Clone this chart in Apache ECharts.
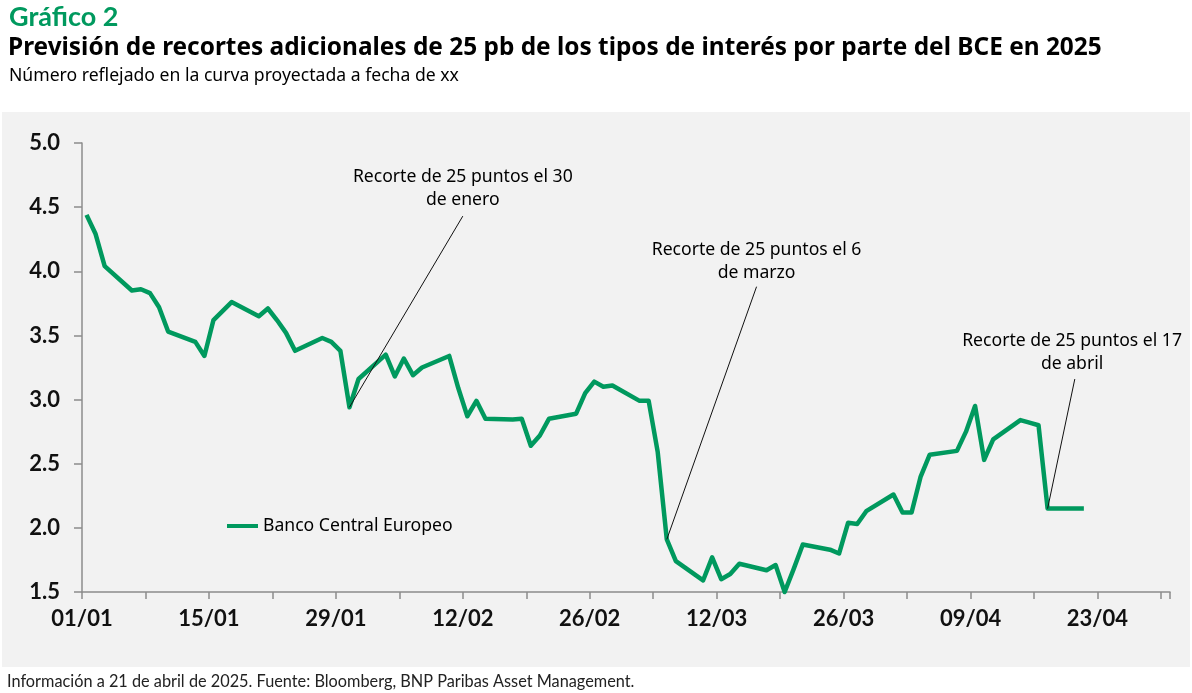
<!DOCTYPE html>
<html>
<head>
<meta charset="utf-8">
<script src="https://cdn.jsdelivr.net/npm/echarts@6/dist/echarts.min.js"></script>
<style>
  html, body { margin: 0; padding: 0; background: #fff; }
  #chart { width: 1192px; height: 693px; }
</style>
</head>
<body>
<div id="chart"></div>
<script>
// business days, 2025
const dates = [
  '2025-01-01','2025-01-02','2025-01-03','2025-01-06','2025-01-07','2025-01-08','2025-01-09','2025-01-10',
  '2025-01-13','2025-01-14','2025-01-15','2025-01-16','2025-01-17','2025-01-20','2025-01-21','2025-01-22',
  '2025-01-23','2025-01-24','2025-01-27','2025-01-28','2025-01-29','2025-01-30','2025-01-31',
  '2025-02-03','2025-02-04','2025-02-05','2025-02-06','2025-02-07','2025-02-10','2025-02-11','2025-02-12',
  '2025-02-13','2025-02-14','2025-02-17','2025-02-18','2025-02-19','2025-02-20','2025-02-21','2025-02-24',
  '2025-02-25','2025-02-26','2025-02-27','2025-02-28',
  '2025-03-03','2025-03-04','2025-03-05','2025-03-06','2025-03-07','2025-03-10','2025-03-11','2025-03-12',
  '2025-03-13','2025-03-14','2025-03-17','2025-03-18','2025-03-19','2025-03-20','2025-03-21','2025-03-24',
  '2025-03-25','2025-03-26','2025-03-27','2025-03-28','2025-03-31',
  '2025-04-01','2025-04-02','2025-04-03','2025-04-04','2025-04-07','2025-04-08','2025-04-09','2025-04-10',
  '2025-04-11','2025-04-14','2025-04-15','2025-04-16','2025-04-17','2025-04-18','2025-04-21'
];
const ecbCuts = [
  4.44, 4.29, 4.04, 3.85, 3.86, 3.83, 3.72, 3.53,
  3.45, 3.34, 3.62, 3.69, 3.76, 3.65, 3.71, 3.62,
  3.52, 3.38, 3.48, 3.45, 3.38, 2.94, 3.16,
  3.35, 3.18, 3.32, 3.19, 3.25, 3.34, 3.09, 2.87,
  2.99, 2.85, 2.845, 2.85, 2.64, 2.72, 2.85, 2.89,
  3.05, 3.14, 3.10, 3.11,
  2.99, 2.99, 2.59, 1.91, 1.74, 1.59, 1.77, 1.60,
  1.64, 1.72, 1.67, 1.71, 1.50, 1.68, 1.87, 1.83,
  1.80, 2.04, 2.03, 2.13, 2.26,
  2.12, 2.12, 2.40, 2.57, 2.60, 2.75, 2.95, 2.53,
  2.69, 2.84, 2.82, 2.80, 2.15, 2.15, 2.15
];
const xTickLabels = ['01/01','15/01','29/01','12/02','26/02','12/03','26/03','09/04','23/04'];

const notes = [
  { date: '2025-01-30', text: 'Recorte de 25 puntos el 30\nde enero' },
  { date: '2025-03-06', text: 'Recorte de 25 puntos el 6\nde marzo' },
  { date: '2025-04-17', text: 'Recorte de 25 puntos el 17\nde abril' }
];
// where each note's text sits / where its leader line stops (axis units)
const noteTextAt = [[42, 4.645], [74.4, 4.08], [109.2, 3.37]];
const noteLineTop = [[42, 4.43], [74.4, 3.88], [109.5, 3.16]];

const GREEN = '#00995e';
const FONT = 'Lato';
const WIDE = 'Noto Sans';
const day0 = Date.UTC(2025, 0, 1);
function dayIndex(d) {
  return (Date.parse(d + 'T00:00:00Z') - day0) / 86400000;
}
// points sit in the middle of their day, like the original
const points = dates.map((d, i) => [dayIndex(d) + 0.5, ecbCuts[i]]);

const noteLines = notes.map((n, i) => {
  const k = dates.indexOf(n.date);
  return [{ coord: [dayIndex(n.date) + 0.5, ecbCuts[k]] }, { coord: noteLineTop[i] }];
});
const noteTexts = notes.map((n, i) => ({ coord: noteTextAt[i], value: n.text }));

const chart = echarts.init(document.getElementById('chart'));
chart.setOption({
  animation: false,
  backgroundColor: '#fff',
  graphic: [{
    type: 'rect', z: -10, silent: true,
    shape: { x: 2, y: 112, width: 1188, height: 555 },
    style: { fill: '#f2f2f2' }
  }],
  title: [
    { text: 'Gráfico 2', left: 4, top: -1,
      textStyle: { fontFamily: FONT, fontSize: 27, fontWeight: 'bold', color: GREEN } },
    { text: 'Previsión de recortes adicionales de 25 pb de los tipos de interés por parte del BCE en 2025', left: 3, top: 31,
      textStyle: { fontFamily: WIDE, fontSize: 24.4, fontWeight: 'bold', color: '#000' } },
    { text: 'Número reflejado en la curva proyectada a fecha de xx', left: 4, top: 62,
      textStyle: { fontFamily: WIDE, fontSize: 17.6, fontWeight: 'normal', color: '#000' } },
    { text: 'Información a 21 de abril de 2025. Fuente: Bloomberg, BNP Paribas Asset Management.', left: 2, top: 669,
      textStyle: { fontFamily: FONT, fontSize: 16.3, fontWeight: 'normal', color: '#222' } }
  ],
  legend: {
    left: 222, top: 512, itemWidth: 31, itemHeight: 4, icon: 'rect',
    textStyle: { fontFamily: WIDE, fontSize: 17.6, color: '#000' },
    data: ['Banco Central Europeo']
  },
  grid: { left: 82, right: 22, top: 143, bottom: 101 },
  xAxis: {
    type: 'value', min: 0, max: 120, interval: 7,
    splitLine: { show: false },
    axisLine: { lineStyle: { color: '#8c8c8c', width: 1.5 } },
    axisTick: { show: true, length: 7, lineStyle: { color: '#8c8c8c', width: 1.5 } },
    axisLabel: {
      margin: 16, fontFamily: FONT, fontSize: 22, fontWeight: 'bold', color: '#111',
      formatter: v => (v % 14 === 0 && v / 14 < xTickLabels.length) ? xTickLabels[v / 14] : ''
    }
  },
  yAxis: {
    type: 'value', min: 1.5, max: 5, interval: 0.5,
    splitLine: { show: false },
    axisLine: { show: true, lineStyle: { color: '#8c8c8c', width: 1.5 } },
    axisTick: { show: true, length: 8, lineStyle: { color: '#8c8c8c', width: 1.5 } },
    axisLabel: {
      margin: 22, fontFamily: FONT, fontSize: 22, fontWeight: 'bold', color: '#111',
      formatter: v => v.toFixed(1)
    }
  },
  series: [{
    name: 'Banco Central Europeo',
    type: 'line',
    data: points,
    symbol: 'none',
    clip: false,
    lineStyle: { color: GREEN, width: 4.5, join: 'round' },
    itemStyle: { color: GREEN },
    markLine: {
      silent: true, symbol: ['none', 'none'],
      label: { show: false },
      lineStyle: { color: '#111', width: 1, type: 'solid' },
      emphasis: { disabled: true },
      data: noteLines
    },
    markPoint: {
      silent: true, symbol: 'circle', symbolSize: 0,
      label: {
        show: true, position: 'inside', formatter: p => p.value,
        fontFamily: WIDE, fontSize: 17.6, lineHeight: 23, color: '#000', align: 'center'
      },
      data: noteTexts
    }
  }]
});
</script>
</body>
</html>
